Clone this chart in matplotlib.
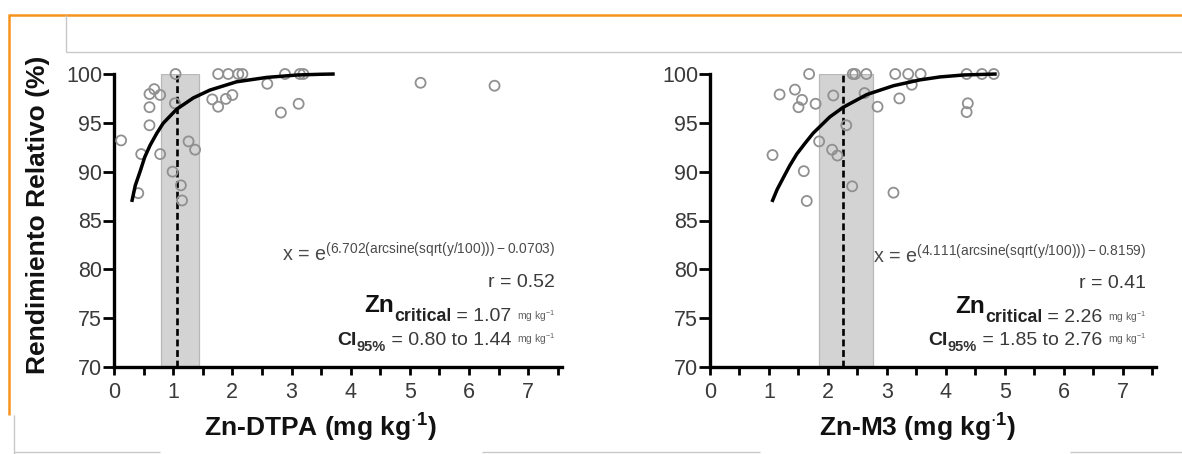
import matplotlib
matplotlib.use("Agg")
import matplotlib.pyplot as plt
from matplotlib.lines import Line2D
from matplotlib.patches import Rectangle

plt.rcParams['font.family'] = ['Liberation Sans', 'DejaVu Sans']
plt.rcParams['mathtext.fontset'] = 'custom'
plt.rcParams['mathtext.rm'] = 'Liberation Sans'
plt.rcParams['mathtext.bf'] = 'Liberation Sans:bold'
plt.rcParams['mathtext.default'] = 'regular'

# ---------------- data ----------------
dtpa_x = [0.12, 0.41, 0.46, 0.60, 0.68, 0.78, 0.60, 0.60, 0.78, 1.04, 1.03, 0.99, 1.13, 1.15,
          1.26, 1.37, 1.66, 1.76, 1.89, 2.00, 1.76, 1.93, 2.10, 2.17, 2.59, 2.82, 2.89, 3.12,
          3.14, 3.20, 5.18, 6.43]
dtpa_y = [93.2, 87.8, 91.8, 97.95, 98.45, 97.85, 96.6, 94.75, 91.8, 100.0, 97.0, 90.0, 88.6, 87.05,
          93.1, 92.25, 97.4, 96.65, 97.45, 97.85, 100.0, 100.0, 100.0, 100.0, 99.0, 96.05, 100.0, 96.95,
          100.0, 100.0, 99.1, 98.8]

m3_x = [1.06, 1.18, 1.44, 1.56, 1.50, 1.68, 1.79, 1.59, 1.64, 1.85, 2.07, 2.16, 2.09, 2.31, 2.41,
        2.42, 2.46, 2.65, 2.62, 2.84, 3.11, 3.14, 3.21, 3.36, 3.42, 3.57, 4.35, 4.37, 4.35, 4.61, 4.81]
m3_y = [91.7, 97.9, 98.4, 97.35, 96.6, 100.0, 96.95, 90.05, 87.0, 93.1, 92.25, 91.65, 97.8, 94.75, 88.5,
        100.0, 100.0, 100.0, 98.05, 96.65, 87.85, 100.0, 97.5, 100.0, 98.9, 100.0, 100.0, 97.0, 96.1,
        100.0, 100.0]

dtpa_curve_x = [0.30, 0.36, 0.44, 0.52, 0.61, 0.72, 0.83, 1.06, 1.34, 1.62, 2.07, 2.58, 3.10, 3.48, 3.73]
dtpa_curve_y = [86.9, 88.6, 90.0, 91.5, 92.7, 93.9, 94.95, 96.4, 97.55, 98.35, 99.2, 99.65, 99.9, 99.97, 100.0]

m3_curve_x = [1.05, 1.14, 1.24, 1.35, 1.47, 1.61, 1.75, 2.03, 2.26, 2.66, 3.11, 3.56, 3.90, 4.30, 4.86]
m3_curve_y = [86.9, 88.2, 89.35, 90.6, 91.8, 92.9, 93.95, 95.6, 96.6, 97.9, 98.8, 99.4, 99.7, 99.9, 100.0]

dtpa_crit = 1.07
dtpa_ci = (0.80, 1.44)
m3_crit = 2.26
m3_ci = (1.85, 2.76)

xticks = [0, 1, 2, 3, 4, 5, 6, 7]
yticks = [70, 75, 80, 85, 90, 95, 100]

# ---------------- figure ----------------
W, H = 1182, 454
fig = plt.figure(figsize=(W / 100, H / 100), dpi=100)
fig.patch.set_facecolor('white')


def px_axes(x0, y0_top, x1, y1_bottom):
    return fig.add_axes([x0 / W, (H - y1_bottom) / H, (x1 - x0) / W, (y1_bottom - y0_top) / H])


ax1 = px_axes(114, 74, 562, 367)
ax2 = px_axes(710, 74, 1156, 367)


def style(ax, xmax):
    ax.set_xlim(0, xmax)
    ax.set_ylim(70, 100)
    for s in ['top', 'right']:
        ax.spines[s].set_visible(False)
    for s in ['left', 'bottom']:
        ax.spines[s].set_linewidth(2.4)
        ax.spines[s].set_color('black')
    ax.set_xticks(xticks)
    ax.set_xticks([v + 0.5 for v in xticks], minor=True)
    ax.set_yticks(yticks)
    ax.tick_params(axis='x', which='both', direction='out', length=6, width=2.0,
                   labelsize=15.5, labelcolor='#3a3a3a', pad=5)
    ax.tick_params(axis='y', which='major', direction='out', length=8, width=2.0,
                   labelsize=15.5, labelcolor='#3a3a3a', pad=0.5)
    ax.patch.set_alpha(0)


style(ax1, 7.57)
style(ax2, 7.56)


def panel(ax, sx, sy, cx, cy, crit, ci):
    ax.add_patch(Rectangle((ci[0], 70), ci[1] - ci[0], 30, facecolor='#d3d3d3',
                           edgecolor='#b8b8b8', linewidth=0.9, zorder=1))
    ax.plot([crit, crit], [70, 100], color='black', lw=1.9, dashes=(2.6, 1.4), zorder=3)
    ax.scatter(sx, sy, s=52, facecolors='none', edgecolors='#909090', linewidths=1.3,
               zorder=4, clip_on=False)
    ax.plot(cx, cy, color='black', lw=2.5, zorder=5, solid_capstyle='butt', clip_on=False)


panel(ax1, dtpa_x, dtpa_y, dtpa_curve_x, dtpa_curve_y, dtpa_crit, dtpa_ci)
panel(ax2, m3_x, m3_y, m3_curve_x, m3_curve_y, m3_crit, m3_ci)

# ---------------- axis labels ----------------
fig.text(38 / W, (H - 215) / H, 'Rendimiento Relativo (%)', rotation=90, ha='center', va='center',
         fontsize=19, fontweight='bold', color='#111111')
fig.text(320 / W, (H - 428) / H, 'Zn-DTPA (mg kg$^{\\cdot1}$)', ha='center', va='center',
         fontsize=19, fontweight='bold', color='#111111')
fig.text(918 / W, (H - 428) / H, 'Zn-M3 (mg kg$^{\\cdot1}$)', ha='center', va='center',
         fontsize=19, fontweight='bold', color='#111111')

# ---------------- annotations ----------------
renderer = fig.canvas.get_renderer()


def rich_right(x_right, pieces):
    """pieces listed right-to-left: (text, size, weight, color, baseline_y_px_from_top)"""
    x = x_right
    for s, size, weight, color, yb in pieces:
        t = fig.text(x / W, (H - yb) / H, s, ha='right', va='baseline', fontsize=size,
                     fontweight=weight, color=color)
        bb = t.get_window_extent(renderer)
        x -= bb.width


def annotations(x_right, eq, r, crit_val, ci_txt, ys):
    y_eq, y_r, y_zn, y_sub, y_ci, y_ci_sub = ys
    rich_right(x_right, [(eq, 14.2, 'normal', '#4a4a4a', y_eq)])
    rich_right(x_right, [(r, 14, 'normal', '#3a3a3a', y_r)])
    rich_right(x_right, [
        ('mg kg$^{-1}$', 7.5, 'normal', '#606060', y_sub - 1),
        (' = ' + crit_val + ' ', 14, 'normal', '#3a3a3a', y_sub),
        ('critical', 12.8, 'bold', '#222222', y_sub),
        ('Zn', 17.5, 'bold', '#111111', y_zn),
    ])
    rich_right(x_right, [
        ('mg kg$^{-1}$', 7.5, 'normal', '#606060', y_ci - 2),
        (' = ' + ci_txt + ' ', 14, 'normal', '#3a3a3a', y_ci),
        ('95%', 10.5, 'bold', '#333333', y_ci_sub),
        ('CI', 14, 'bold', '#222222', y_ci),
    ])


annotations(555, 'x = e$^{(6.702(arcsine(sqrt(y/100))) - 0.0703)}$', 'r = 0.52', '1.07',
            '0.80 to 1.44', (262, 287, 312, 321, 345, 351))
annotations(1146, 'x = e$^{(4.111(arcsine(sqrt(y/100))) - 0.8159)}$', 'r = 0.41', '2.26',
            '1.85 to 2.76', (263, 288, 313, 322, 345, 351))

# ---------------- page decorations ----------------
def fline(xs, ys, color, lw):
    fig.add_artist(Line2D([x / W for x in xs], [(H - y) / H for y in ys], color=color, lw=lw,
                          transform=fig.transFigure, solid_capstyle='butt'))


orange = '#f7941d'
gray = '#c8c8c8'
fline([9, W], [14.5, 14.5], orange, 1.8)
fline([9, 9], [14, 415], orange, 1.8)
fline([66, 66], [15, 52], gray, 1.0)
fline([66, W], [52, 52], gray, 1.0)
fline([14, 14], [415, H], gray, 1.0)
fline([14, 160], [452, 452], gray, 1.0)
fline([482, 760], [452, 452], gray, 1.0)
fline([1070, W], [452, 452], gray, 1.0)

fig.savefig('out.png', dpi=100)
